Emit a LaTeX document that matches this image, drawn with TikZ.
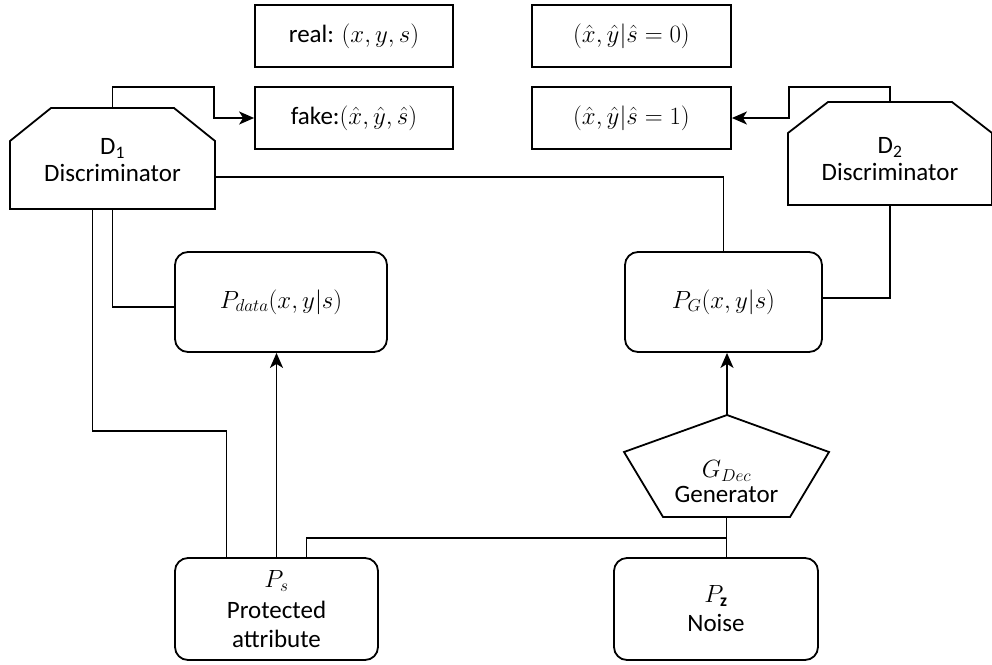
\documentclass[tikz,border=0pt]{standalone}
\usepackage{fontspec}
\setmainfont{Carlito}
\usetikzlibrary{arrows.meta,calc}
\begin{document}
\begin{tikzpicture}[x=1pt,y=-1pt,
  every node/.style={font=\fontsize{25}{29}\selectfont, align=center, inner sep=0pt},
  line/.style={line width=1.8pt, line join=miter},
  arr/.style={line width=1.8pt, -{Stealth[length=15pt,width=13pt,inset=4pt]}},
  sqbox/.style={draw, line width=1.8pt, minimum width=198pt, minimum height=62pt},
  rbox/.style={draw, line width=1.8pt, rounded corners=13pt}]
\useasboundingbox (0,0) rectangle (992,664);

% top boxes
\node[sqbox] (real) at (354,36) {real: $(x,y,s)$};
\node[sqbox] (fake) at (354,118) {fake:$(\hat{x},\hat{y},\hat{s})$};
\node[sqbox, minimum width=199pt] (r0) at (631.5,36) {$(\hat{x},\hat{y}|\hat{s}=0)$};
\node[sqbox, minimum width=199pt] (r1) at (631.5,118) {$(\hat{x},\hat{y}|\hat{s}=1)$};

% rounded boxes
\node[rbox, minimum width=212pt, minimum height=100pt] (pdata) at (281,302) {$P_{data}(x,y|s)$};
\node[rbox, minimum width=197pt, minimum height=100pt] (pg) at (723.5,302) {$P_{G}(x,y|s)$};
\node[rbox, minimum width=203pt, minimum height=102pt] (ps) at (276.5,609) {\raisebox{2pt}{$P_s$}\\Protected\\attribute};
\node[rbox, minimum width=204pt, minimum height=102pt] (pz) at (716,609) {$P_{\mathbf{z}}$\\Noise};

% discriminators (shape drawn around named nodes)
\node[minimum width=205pt, minimum height=101pt] (d1) at (112.5,158.5) {};
\draw[line] ($(d1.center)+(-102.5,50.5)$) -- ++(0,-68) -- ++(41,-33) -- ++(123,0) -- ++(41,33) -- ++(0,68) -- cycle;
\node (d1t) at ($(d1.center)+(0,2)$) {D\textsubscript{1}\\[-2pt]Discriminator};

\node[minimum width=204pt, minimum height=103pt] (d2) at (890,153.5) {};
\draw[line] ($(d2.center)+(-102,51.5)$) -- ++(0,-72) -- ++(40,-31) -- ++(124,0) -- ++(40,31) -- ++(0,72) -- cycle;
\node (d2t) at ($(d2.center)+(0,6)$) {D\textsubscript{2}\\[-2pt]Discriminator};

% generator
\node[minimum width=205pt, minimum height=102pt] (gen) at (726.5,466) {};
\coordinate (genapex) at ($(gen.center)+(0.5,-51)$);
\draw[line] (genapex) -- ($(gen.center)+(102.5,-14)$) -- ($(gen.center)+(63.5,51)$) -- ($(gen.center)+(-63.5,51)$) -- ($(gen.center)+(-102.5,-14)$) -- cycle;
\node (gent) at ($(gen.center)+(0,16)$) {$G_{Dec}$\\[-4pt]Generator};

% connectors
\draw[arr] (d1.north) -- ++(0,-21) -| ($(fake.west)+(-40,0)$) -- (fake.west);
\draw[arr] (d2.north) -- ++(0,-15) -| ($(r1.east)+(57,0)$) -- (r1.east);
\draw[line] ($(d1.east)+(0,18.5)$) -| (pg.north);
\draw[line] (d1.south) |- ($(pdata.west)+(0,5)$);
\draw[line] ($(d1.south)+(-20,0)$) -- ++(0,222) -| ($(ps.north)+(-50,0)$);
\draw[line] (d2.south) |- ($(pg.east)+(0,-4)$);
\draw[arr] (ps.north) -- (ps.north |- pdata.south);
\draw[line] ($(ps.north)+(30,0)$) -- ++(0,-19) -| (gen.south);
\draw[line] (gen.south) -- (gen.south |- pz.north);
\draw[arr] (genapex) -- (genapex |- pg.south);
\end{tikzpicture}
\end{document}
